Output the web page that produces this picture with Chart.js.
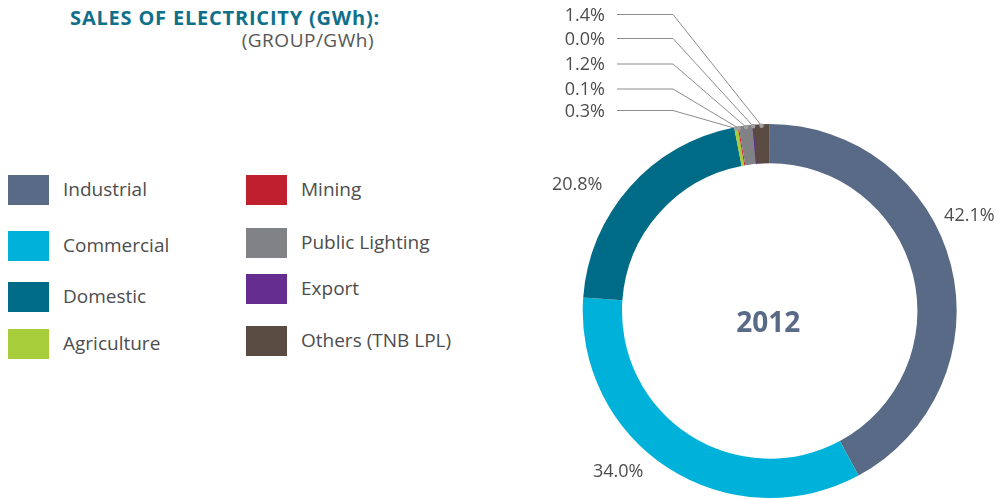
<!DOCTYPE html>
<html>
<head>
<meta charset="utf-8">
<script src="https://cdn.jsdelivr.net/npm/chart.js@4.4.1/dist/chart.umd.min.js"></script>
<style>
  body { margin: 0; width: 1001px; height: 499px; background: #fff; position: relative; overflow: hidden; font-family: "Open Sans", sans-serif; color: #4d4d4d; }
  .title { position: absolute; right: 621px; top: 8px; font-size: 20px; line-height: 20px; font-weight: 700; color: #10708a; letter-spacing: 0.8px; white-space: nowrap; }
  .subtitle { position: absolute; right: 627px; top: 31px; font-size: 19px; line-height: 19px; color: #555; letter-spacing: 0.5px; white-space: nowrap; }
  .item { position: absolute; height: 30px; display: flex; align-items: center; font-size: 19px; white-space: nowrap; }
  .swatch { width: 41px; height: 30px; margin-right: 14px; }
  #chart { position: absolute; left: 500px; top: 0; }
</style>
</head>
<body>
<div class="title">SALES OF ELECTRICITY (GWh):</div>
<div class="subtitle">(GROUP/GWh)</div>
<div id="legend"></div>
<canvas id="chart" width="501" height="499"></canvas>
<script>
// data
const categories = ["Industrial", "Commercial", "Domestic", "Agriculture", "Mining", "Public Lighting", "Export", "Others (TNB LPL)"];
const shares = [42.1, 34.0, 20.8, 0.3, 0.1, 1.2, 0.04, 1.4];
const colors = ["#586a85", "#00b1d9", "#006b87", "#a8cd3a", "#c01f2f", "#808285", "#662d91", "#594a42"];
const yearLabel = "2012";

// legend layout: two columns
const legendPos = [
  [8, 175], [8, 231], [8, 282], [8, 329],
  [246, 175], [246, 228], [246, 274], [246, 326]
];

const legend = document.getElementById("legend");
categories.forEach((name, i) => {
  const div = document.createElement("div");
  div.className = "item";
  div.style.left = legendPos[i][0] + "px";
  div.style.top = (legendPos[i][1] - 1) + "px";
  div.innerHTML = `<span class="swatch" style="background:${colors[i]};margin-top:2px"></span>${name}`;
  legend.appendChild(div);
});

// big segments: label position along the arc (fraction) and distance from centre
const bigLabels = [
  { index: 0, frac: 0.426, dist: 221 },
  { index: 1, frac: 0.585, dist: 221 },
  { index: 2, frac: 0.388, dist: 230 }
];
// small segments: stacked callouts at the top left, bottom row first
const smallLabels = [
  { index: 3, y: 110.5 },
  { index: 4, y: 89 },
  { index: 5, y: 64 },
  { index: 6, y: 38.5 },
  { index: 7, y: 14.5 }
];

const callouts = {
  id: "callouts",
  afterDatasetsDraw(chart) {
    const ctx = chart.ctx;
    const arcs = chart.getDatasetMeta(0).data;
    const pct = i => shares[i].toFixed(1) + "%";
    ctx.save();
    ctx.font = '18px "Open Sans"';
    ctx.fillStyle = "#4d4d4d";
    ctx.textBaseline = "middle";

    bigLabels.forEach(l => {
      const a = arcs[l.index];
      const ang = a.startAngle + (a.endAngle - a.startAngle) * l.frac;
      ctx.textAlign = "center";
      ctx.fillText(pct(l.index), a.x + Math.cos(ang) * l.dist, a.y + Math.sin(ang) * l.dist);
    });

    smallLabels.forEach(l => {
      const a = arcs[l.index];
      const ang = (a.startAngle + a.endAngle) / 2;
      const r = a.outerRadius - 1.5;
      const px = a.x + Math.cos(ang) * r;
      const py = a.y + Math.sin(ang) * r;
      ctx.textAlign = "right";
      ctx.fillStyle = "#4d4d4d";
      ctx.fillText(pct(l.index), 105, l.y + 1);
      ctx.strokeStyle = "#8c8c8c";
      ctx.lineWidth = 1;
      ctx.beginPath();
      ctx.moveTo(117, l.y);
      ctx.lineTo(173, l.y);
      ctx.lineTo(px, py);
      ctx.stroke();
      ctx.fillStyle = "#a0a0a0";
      ctx.beginPath();
      ctx.arc(px, py, 2.2, 0, Math.PI * 2);
      ctx.fill();
    });

    const c = arcs[0];
    ctx.font = 'bold 28px "Open Sans"';
    ctx.fillStyle = "#586a85";
    ctx.textAlign = "center";
    ctx.fillText(yearLabel, c.x - 1.5, c.y + 13);
    ctx.restore();
  }
};

new Chart(document.getElementById("chart"), {
  type: "doughnut",
  data: {
    labels: categories,
    datasets: [{
      data: shares,
      backgroundColor: colors,
      borderColor: colors,
      borderWidth: [0, 0, 0, 0, 0, 0, 1, 0]
    }]
  },
  options: {
    responsive: false,
    animation: false,
    cutout: "79%",
    layout: { padding: { left: 82.2, right: 43.8, top: 123.5, bottom: 0.5 } },
    plugins: { legend: { display: false }, tooltip: { enabled: false } }
  },
  plugins: [callouts]
});
</script>
</body>
</html>
